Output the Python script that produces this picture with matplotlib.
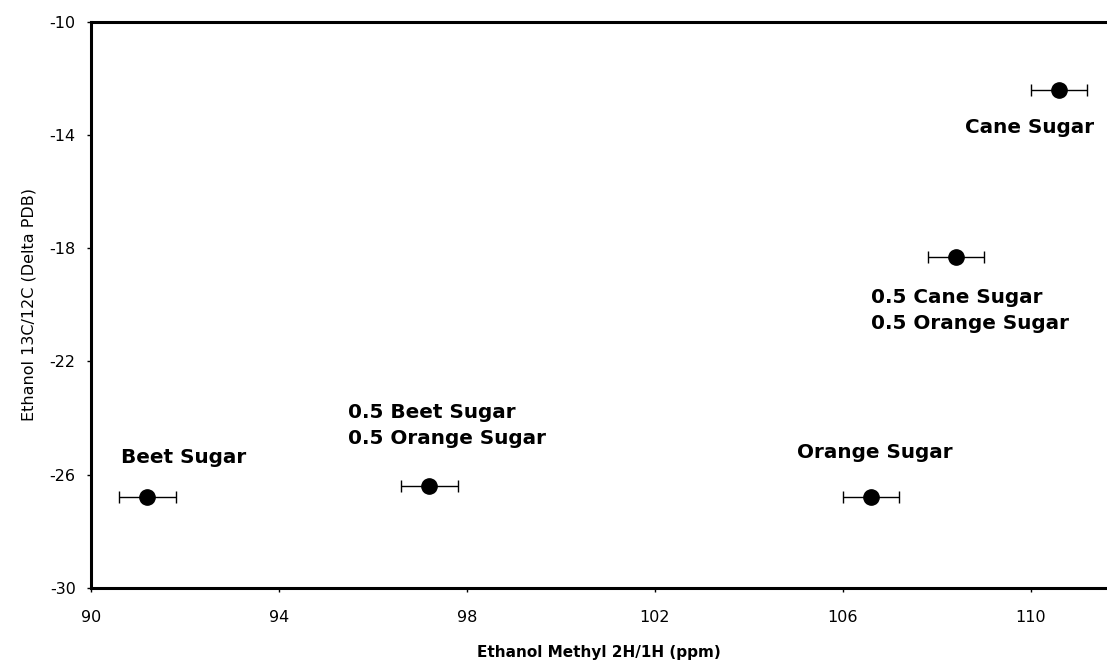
import matplotlib.pyplot as plt
from matplotlib.ticker import FuncFormatter

# Ethanol isotope ratios for each sugar source
names = ["Beet Sugar", "0.5 Beet Sugar\n0.5 Orange Sugar", "Orange Sugar",
         "0.5 Cane Sugar\n0.5 Orange Sugar", "Cane Sugar"]
methyl_dh = [91.2, 97.2, 106.6, 108.4, 110.6]
carbon_13 = [-26.8, -26.4, -26.8, -18.3, -12.4]
dh_err = [0.6, 0.6, 0.6, 0.6, 0.6]

# where each label's left edge / vertical centre sits (data units)
label_x = [90.64, 95.47, 105.02, 106.6, 108.6]
label_y = [-25.4, -24.25, -25.2, -20.2, -13.75]

xticks = [90, 94, 98, 102, 106, 110]
yticks = [-10, -14, -18, -22, -26, -30]

plt.rcParams['font.family'] = ['DejaVu Sans']
plt.rcParams['axes.unicode_minus'] = False

fig = plt.figure(figsize=(11.07, 6.62), dpi=100)
ax = fig.add_axes([0.0822, 0.112, 0.9178, 0.855])

ax.errorbar(methyl_dh, carbon_13, xerr=dh_err, fmt="o", color="black",
            markersize=11, elinewidth=1.0, capsize=4, capthick=1.0)

for name, lx, ly in zip(names, label_x, label_y):
    ax.text(lx, ly, name, fontsize=14.4, fontweight="bold", ha="left",
            va="center", linespacing=1.45)

ax.set_xlim(90, 90 + (1107 - 91) / 47.0)
ax.set_ylim(-30, -10)
ax.set_xticks(xticks)
ax.set_yticks(yticks)
ax.xaxis.set_major_formatter(FuncFormatter(lambda v, p: "%d" % v))
ax.yaxis.set_major_formatter(FuncFormatter(lambda v, p: "%d" % v))
ax.tick_params(direction="out", length=3, width=1, labelsize=11.5)
ax.tick_params(axis="x", pad=13)
ax.tick_params(axis="y", pad=8)

ax.spines["right"].set_visible(False)
for side in ["left", "top", "bottom"]:
    ax.spines[side].set_linewidth(2.2)

ax.set_xlabel("Ethanol Methyl 2H/1H (ppm)", fontsize=11, fontweight="bold",
              labelpad=14)
ax.set_ylabel("Ethanol 13C/12C (Delta PDB)", fontsize=11.5, labelpad=9)

fig.savefig("out.png", dpi=100)
